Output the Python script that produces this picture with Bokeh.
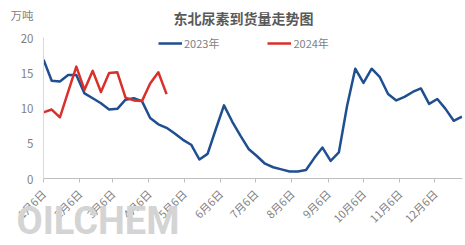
import math
import pandas as pd
from bokeh.plotting import figure
from bokeh.models import Range1d, FixedTicker, Label, Legend, LegendItem, LinearAxis
from bokeh.embed import file_html
from bokeh.resources import INLINE

# ---- data ----
week_start = "2023-01-06"
values_2023 = [16.9, 13.9, 13.8, 14.7, 14.7, 12.1, 11.4, 10.7, 9.8, 9.9,
               11.2, 11.4, 11.0, 8.6, 7.7, 7.2, 6.4, 5.5, 4.8, 2.7,
               3.5, 7.0, 10.4, 8.1, 6.1, 4.2, 3.2, 2.1, 1.6, 1.3,
               1.0, 1.0, 1.2, 2.9, 4.4, 2.5, 3.7, 10.3, 15.6, 13.6,
               15.6, 14.4, 12.0, 11.1, 11.6, 12.3, 12.8, 10.6, 11.3, 9.9,
               8.2, 8.8]
values_2024 = [9.4, 9.8, 8.7, 12.3, 15.9, 12.6, 15.3, 12.3, 15.0, 15.1,
               11.5, 11.1, 11.0, 13.5, 15.1, 12.0]
tick_dates = ["2023-01-06", "2023-02-06", "2023-03-06", "2023-04-06",
              "2023-05-06", "2023-06-06", "2023-07-06", "2023-08-06",
              "2023-09-06", "2023-10-06", "2023-11-06", "2023-12-06"]
tick_labels = ["1月6日", "2月6日", "3月6日", "4月6日", "5月6日", "6月6日",
               "7月6日", "8月6日", "9月6日", "10月6日", "11月6日", "12月6日"]
y_ticks = [0, 5, 10, 15, 20]
unit_text = "万吨"
title_text = "东北尿素到货量走势图"
watermark = "OILCHEM"

start = pd.Timestamp(week_start)
weeks_2023 = pd.date_range(start, periods=len(values_2023), freq="7D")
x_2023 = [(d - start).days for d in weeks_2023]
x_2024 = x_2023[:len(values_2024)]
tick_x = [(pd.Timestamp(d) - start).days for d in tick_dates]

FONT = "Noto Sans CJK SC"
GREY = "#7f7f7f"
BLUE = "#1f4e91"
RED = "#d9302b"

Y_TOP = 25.3      # range above the 20 tick leaves room for title/unit inside frame
UNIT_Y = 23.2
WM_X = 46.5

p = figure(width=465, height=245, output_backend="svg", toolbar_location=None,
           x_range=Range1d(0, x_2023[-1] + 0.5), y_range=Range1d(0, Y_TOP),
           min_border_left=43, min_border_right=3, min_border_top=0,
           min_border_bottom=66)
p.outline_line_color = None
p.grid.grid_line_color = None
p.background_fill_color = "white"
p.border_fill_color = "white"

r23 = p.line(x_2023, values_2023, line_color=BLUE, line_width=2.5, line_join="round")
r24 = p.line(x_2024, values_2024, line_color=RED, line_width=2.5, line_join="round")

xa = p.xaxis[0]
xa.ticker = FixedTicker(ticks=tick_x)
xa.major_label_overrides = {tx: lab for tx, lab in zip(tick_x, tick_labels)}
xa.major_label_orientation = math.pi / 4
xa.major_label_text_font = FONT
xa.major_label_text_font_size = "11px"
xa.major_label_text_color = GREY
xa.axis_line_color = "#bfbfbf"
xa.major_tick_line_color = "#bfbfbf"
xa.major_tick_in = 0
xa.major_tick_out = 4
xa.minor_tick_line_color = None
xa.major_label_standoff = 9

ya = p.yaxis[0]
ya.bounds = (0, 20)
ya.ticker = FixedTicker(ticks=y_ticks + [UNIT_Y])
ya.major_label_overrides = {UNIT_Y: unit_text}
ya.major_label_text_font = FONT
ya.major_label_text_font_size = "11.5px"
ya.major_label_text_color = GREY
ya.axis_line_color = "#d9d9d9"
ya.major_tick_line_color = None
ya.major_tick_in = 0
ya.major_tick_out = 0
ya.minor_tick_line_color = None
ya.major_label_standoff = 10

# watermark as an extra, line-less axis label under the date labels
wa = LinearAxis(ticker=FixedTicker(ticks=[WM_X]), major_label_overrides={WM_X: watermark},
                axis_line_color=None, major_tick_line_color=None,
                minor_tick_line_color=None, major_tick_in=0, major_tick_out=0,
                major_label_standoff=-36, major_label_text_font="Roboto",
                major_label_text_font_size="38px", major_label_text_font_style="bold",
                major_label_text_color="#d4d4d4")
p.add_layout(wa, "below")

legend = Legend(items=[LegendItem(label="2023年", renderers=[r23]),
                       LegendItem(label="2024年", renderers=[r24])],
                orientation="horizontal", location=(115, 127),
                padding=0, margin=0, spacing=48, glyph_width=24, glyph_height=12,
                label_standoff=2, label_text_font=FONT, label_text_font_size="11px",
                label_text_color=GREY, border_line_color=None,
                background_fill_alpha=0)
p.add_layout(legend)

p.add_layout(Label(x=200, y=161, x_units="screen", y_units="screen",
                   text=title_text, text_font=FONT, text_font_size="14px",
                   text_font_style="bold", text_color="#595959",
                   text_align="center", text_baseline="middle"))

open("out.html", "w").write(file_html(p, INLINE))
